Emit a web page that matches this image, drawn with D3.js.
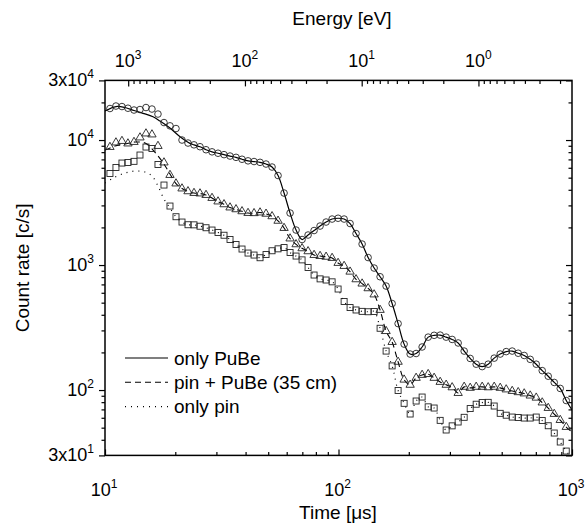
<!DOCTYPE html>
<html>
<head>
<meta charset="utf-8">
<script src="https://cdn.jsdelivr.net/npm/d3@7"></script>
<style>
  body { margin: 0; background: #fff; }
  svg { display: block; }
  text { font-family: "Liberation Sans", Arial, sans-serif; fill: #000; }
</style>
</head>
<body>
<svg id="chart" width="586" height="524"></svg>
<script>
// time channels [us], shared by the three measurements
const time = [10.5, 11.14, 11.82, 12.54, 13.31, 14.12, 14.98, 15.89, 16.86, 17.89,
  18.98, 20.14, 21.37, 22.67, 24.05, 25.52, 27.08, 28.73, 30.48, 32.34,
  34.31, 36.4, 38.62, 40.98, 43.48, 46.13, 48.94, 51.93, 55.1, 58.46,
  62.03, 65.81, 69.82, 74.08, 78.6, 83.39, 88.48, 93.88, 99.6, 105.7,
  112.1, 118.9, 126.2, 133.9, 142.1, 150.7, 159.9, 169.7, 180, 191,
  202.7, 215, 228.1, 242.1, 256.8, 272.5, 289.1, 306.7, 325.4, 345.3,
  366.4, 388.7, 412.4, 437.6, 464.3, 492.6, 522.6, 554.5, 588.3, 624.2,
  662.3, 702.7, 745.6, 791, 839.3, 890.5, 944.8];

// count rate [c/s]
const onlyPuBe = [17870, 18710, 18530, 17970, 17380, 17540, 18200, 17700, 16140, 13800,
  12990, 12360, 10000, 9462, 9154, 8841, 8365, 8047, 7843, 7643,
  7447, 7270, 7020, 6816, 6730, 6631, 6427, 6081, 5200, 3767,
  2606, 1905, 1600, 1738, 1888, 2051, 2208, 2333, 2368, 2333,
  2148, 1786, 1472, 1148, 946, 806, 679, 492, 340, 233,
  194, 196, 221, 265, 274, 275, 265, 254, 238, 205,
  179, 161, 154, 161, 180, 194, 203, 205, 197, 189,
  176, 161, 143, 129, 115, 103, 82.4];

const pinPuBe = [8790, 9550, 9817, 9376, 9638, 10470, 11270, 11070, 8954, 6607,
  5248, 4487, 4093, 3887, 3767, 3733, 3631, 3436, 3221, 3059,
  2884, 2790, 2689, 2606, 2597, 2630, 2569, 2453, 2257, 1977,
  1629, 1464, 1360, 1287, 1202, 1180, 1163, 1138, 1038, 982,
  884, 768, 710, 651, 581, 437, 296, 242, 168, 121,
  110, 125, 132, 134, 125, 116, 110, 105, 94.6, 106,
  104, 106, 106, 105, 106, 104, 101, 98.2, 96, 93.8,
  90.2, 86.8, 79.4, 71.8, 64.3, 57.5, 50.6];

const onlyPin = [5395, 6026, 6546, 6607, 6753, 7586, 8790, 8551, 6368, 4365,
  2965, 2435, 2208, 2101, 2097, 2044, 1988, 1905, 1823, 1731,
  1600, 1459, 1343, 1247, 1202, 1144, 1213, 1301, 1348, 1380,
  1259, 1180, 1100, 955, 832, 775, 759, 734, 643, 511,
  457, 437, 426, 423, 425, 312, 205, 156, 99.1, 78.3,
  64.3, 81.7, 87.9, 73.4, 71.8, 57.2, 47.9, 51.7, 55.5, 60.5,
  71.1, 77, 79.4, 79.7, 74.5, 65.1, 62.9, 60.8, 60.3, 59.7,
  59.7, 60.8, 57, 51.8, 45.3, 38.4, 32.5];

// smoothed curves at early times, where they run apart from the points
const pubeHeadT = [10, 11.15, 12.18, 13.31, 14.54, 16.06, 17.2, 18.98, 20.96, 23.12];
const pubeHead = [17060, 18530, 18200, 17220, 16360, 15360, 14190, 12470, 10630, 9410];
const pinPubeHeadT = [10, 11.04, 12.18, 13.44, 14.84, 16.06, 16.87, 17.89, 18.98];
const pinPubeHead = [8318, 8954, 9290, 9638, 9462, 8318, 7447, 6427, 5346];
const pinHeadT = [10, 11.04, 12.18, 13.44, 14.84, 15.9, 16.87, 17.89, 18.98];
const pinHead = [4529, 5058, 5445, 5649, 5546, 5152, 4285, 3373, 2858];
const tailT = 1000;
const tails = [69.2, 46.1, 28.6];

const legendLabels = ["only PuBe", "pin + PuBe (35 cm)", "only pin"];
const timeTicks = [10, 100, 1000];
const rateTicks = [30, 1e2, 1e3, 1e4, 3e4];
const energyTicks = [1000, 100, 10, 1];
const energyConst = 158000; // E [eV] = energyConst / t^2 [us]

const svg = d3.select("#chart");
const pL = 105, pR = 572, pT = 80.4, pB = 455.4;

const x = d3.scaleLog().domain([10, 1000]).range([pL, pR]);
const y = d3.scaleLog().domain([30, 30000]).range([pB, pT]);
const xE = d3.scaleLog()
  .domain([energyConst / 100, energyConst / 1e6])
  .range([pL, pR]);

function minors(lo, hi) {
  const out = [];
  for (let d = 1e-2; d <= 1e5; d *= 10) {
    for (let m = 2; m <= 9; m++) {
      const v = m * d;
      if (v > lo * 1.0001 && v < hi * 0.9999) out.push(v);
    }
  }
  return out;
}

// ticks
function tickGroup(axis, values, size, transform) {
  svg.append("g")
    .attr("transform", transform)
    .call(axis.tickValues(values).tickSizeInner(size).tickSizeOuter(0).tickFormat(""))
    .call(g => g.select(".domain").remove())
    .call(g => g.selectAll("line").attr("stroke", "#000").attr("stroke-width", 1.2));
}

tickGroup(d3.axisBottom(x), timeTicks, -6, `translate(0,${pB})`);
tickGroup(d3.axisBottom(x), minors(10, 1000), -3.5, `translate(0,${pB})`);
tickGroup(d3.axisTop(xE), energyTicks, -6, `translate(0,${pT})`);
tickGroup(d3.axisTop(xE), minors(energyConst / 1e6, energyConst / 100), -3.5, `translate(0,${pT})`);
tickGroup(d3.axisLeft(y), rateTicks, 6, `translate(${pL},0)`);
tickGroup(d3.axisLeft(y), minors(30, 30000).filter(v => v !== 3e4), 3.5, `translate(${pL},0)`);
tickGroup(d3.axisRight(y), rateTicks, -6, `translate(${pR},0)`);
tickGroup(d3.axisRight(y), minors(30, 30000).filter(v => v !== 3e4), -3.5, `translate(${pR},0)`);

svg.append("rect")
  .attr("x", pL).attr("y", pT)
  .attr("width", pR - pL).attr("height", pB - pT)
  .attr("fill", "none").attr("stroke", "#000").attr("stroke-width", 1.5);

// power-of-ten labels
function powLabel(px, py, v, anchor) {
  const e = Math.floor(Math.log10(v) + 1e-9);
  const mant = Math.round(v / Math.pow(10, e));
  const t = svg.append("text")
    .attr("x", px).attr("y", py)
    .attr("text-anchor", anchor)
    .attr("font-size", 18);
  t.append("tspan").text(mant === 1 ? "10" : mant + "x10");
  t.append("tspan").attr("dy", -8).attr("font-size", 12).text(e);
}

timeTicks.forEach(v => powLabel(x(v) - 1, 496, v, "middle"));
energyTicks.forEach(v => powLabel(xE(v), 67, v, "middle"));
rateTicks.forEach(v => powLabel(94, y(v) + 6, v, "end"));

// axis titles
svg.append("text").attr("x", 338).attr("y", 519).attr("text-anchor", "middle")
  .attr("font-size", 19).text("Time [\u03bcs]");
svg.append("text").attr("x", 342).attr("y", 25).attr("text-anchor", "middle")
  .attr("font-size", 19).text("Energy [eV]");
svg.append("text").attr("transform", `translate(29,${(pT + pB) / 2}) rotate(-90)`)
  .attr("text-anchor", "middle").attr("font-size", 19).text("Count rate [c/s]");

// curves
svg.append("clipPath").attr("id", "clip").append("rect")
  .attr("x", pL).attr("y", pT).attr("width", pR - pL).attr("height", pB - pT);
const plot = svg.append("g").attr("clip-path", "url(#clip)");

const line = d3.line().x(d => x(d[0])).y(d => y(d[1])).curve(d3.curveCatmullRom.alpha(0.5));

function curveData(headT, head, values, tail) {
  const pts = headT.map((t, i) => [t, head[i]]);
  const last = headT[headT.length - 1];
  time.forEach((t, i) => { if (t > last) pts.push([t, values[i]]); });
  pts.push([tailT, tail]);
  return pts;
}

const styles = [
  { dash: null, width: 1.2 },
  { dash: "6,4", width: 1.1 },
  { dash: "1,5", width: 1.2 }
];

const series = [
  curveData(pubeHeadT, pubeHead, onlyPuBe, tails[0]),
  curveData(pinPubeHeadT, pinPubeHead, pinPuBe, tails[1]),
  curveData(pinHeadT, pinHead, onlyPin, tails[2])
];

series.forEach((pts, i) => {
  plot.append("path")
    .attr("d", line(pts))
    .attr("fill", "none")
    .attr("stroke", "#000")
    .attr("stroke-width", styles[i].width)
    .attr("stroke-dasharray", styles[i].dash);
});

// markers
const mk = { stroke: "#222", width: 0.9 };
plot.selectAll(".circ").data(time.map((t, i) => [t, onlyPuBe[i]])).enter()
  .append("circle")
  .attr("cx", d => x(d[0])).attr("cy", d => y(d[1])).attr("r", 3.3)
  .attr("fill", "none").attr("stroke", mk.stroke).attr("stroke-width", mk.width);

const tri = d3.symbol().type(d3.symbolTriangle).size(30);
plot.selectAll(".tri").data(time.map((t, i) => [t, pinPuBe[i]])).enter()
  .append("path")
  .attr("d", tri)
  .attr("transform", d => `translate(${x(d[0])},${y(d[1])})`)
  .attr("fill", "none").attr("stroke", mk.stroke).attr("stroke-width", mk.width);

plot.selectAll(".sq").data(time.map((t, i) => [t, onlyPin[i]])).enter()
  .append("rect")
  .attr("x", d => x(d[0]) - 3).attr("y", d => y(d[1]) - 3)
  .attr("width", 6).attr("height", 6)
  .attr("fill", "none").attr("stroke", mk.stroke).attr("stroke-width", mk.width);

// legend
const legend = svg.append("g");
legendLabels.forEach((label, i) => {
  const ly = 358 + i * 24.3;
  legend.append("line")
    .attr("x1", 125).attr("x2", 168).attr("y1", ly).attr("y2", ly)
    .attr("stroke", "#000")
    .attr("stroke-width", styles[i].width)
    .attr("stroke-dasharray", styles[i].dash);
  legend.append("text")
    .attr("x", 174).attr("y", ly + 6.5)
    .attr("font-size", 19)
    .text(label);
});
</script>
</body>
</html>
